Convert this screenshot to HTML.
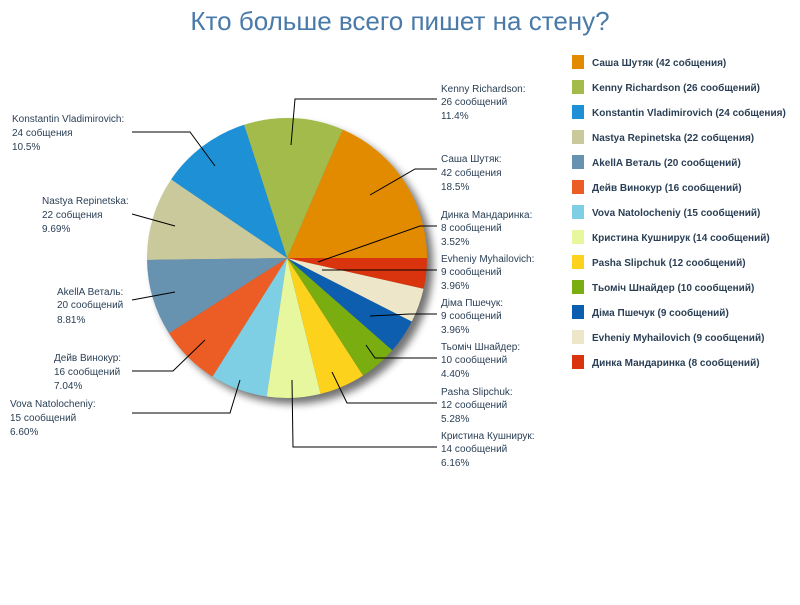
<!DOCTYPE html>
<html><head><meta charset="utf-8"><style>
body{margin:0;background:#fff;width:800px;height:600px;overflow:hidden;font-family:"Liberation Sans",sans-serif}
svg text{font-family:"Liberation Sans","DejaVu Sans",sans-serif}
</style></head><body>
<svg id="s" width="800" height="600" xmlns="http://www.w3.org/2000/svg">
<defs><filter id="sh" x="-20%" y="-20%" width="150%" height="150%"><feGaussianBlur stdDeviation="4"/></filter>
<clipPath id="lc"><rect x="560" y="40" width="230" height="350"/></clipPath></defs>
<text x="400" y="30" text-anchor="middle" font-size="26" fill="#4a7aa8">Кто больше всего пишет на стену?</text>
<circle cx="293" cy="264" r="140" fill="#000" opacity="0.55" filter="url(#sh)"/>
<g id="pie"></g>
<g id="lines" stroke="#000" stroke-width="1" fill="none">
<polyline points="437,99 295,99 291,145"/>
<polyline points="437,169 415,169 370,195"/>
<polyline points="437,226 420,226 318,262"/>
<polyline points="437,270 420,270 322,270"/>
<polyline points="437,314 410,314 370,316"/>
<polyline points="437,358 375,358 366,345"/>
<polyline points="437,403 347,403 332,372"/>
<polyline points="437,447 293,447 292,380"/>
<polyline points="132,132 190,132 215,166"/>
<polyline points="132,214 175,226"/>
<polyline points="132,300 175,292"/>
<polyline points="132,371 173,371 205,340"/>
<polyline points="132,413 230,413 240,380"/>
</g>
<g font-size="10" fill="#2a3f55">
<text x="441" y="92">Kenny Richardson:</text><text x="441" y="105">26 сообщений</text><text x="441" y="119">11.4%</text>
<text x="441" y="162">Саша Шутяк:</text><text x="441" y="176">42 собщения</text><text x="441" y="190">18.5%</text>
<text x="441" y="218">Динка Мандаринка:</text><text x="441" y="231">8 сообщений</text><text x="441" y="245">3.52%</text>
<text x="441" y="262">Evheniy Myhailovich:</text><text x="441" y="275">9 сообщений</text><text x="441" y="289">3.96%</text>
<text x="441" y="306">Діма Пшечук:</text><text x="441" y="319">9 сообщений</text><text x="441" y="333">3.96%</text>
<text x="441" y="350">Тьоміч Шнайдер:</text><text x="441" y="363">10 сообщений</text><text x="441" y="377">4.40%</text>
<text x="441" y="395">Pasha Slipchuk:</text><text x="441" y="408">12 сообщений</text><text x="441" y="422">5.28%</text>
<text x="441" y="439">Кристина Кушнирук:</text><text x="441" y="452">14 сообщений</text><text x="441" y="466">6.16%</text>
<text x="12" y="122">Konstantin Vladimirovich:</text><text x="12" y="136">24 собщения</text><text x="12" y="150">10.5%</text>
<text x="42" y="204">Nastya Repinetska:</text><text x="42" y="218">22 собщения</text><text x="42" y="232">9.69%</text>
<text x="57" y="295">AkellA Веталь:</text><text x="57" y="308">20 сообщений</text><text x="57" y="323">8.81%</text>
<text x="54" y="361">Дейв Винокур:</text><text x="54" y="375">16 сообщений</text><text x="54" y="389">7.04%</text>
<text x="10" y="407">Vova Natolocheniy:</text><text x="10" y="421">15 сообщений</text><text x="10" y="435">6.60%</text>
</g>
<g id="leg" font-size="10" font-weight="bold" fill="#2a3f55" clip-path="url(#lc)"></g>
</svg>
<script>
var d=[[42,"#e38b00","Саша Шутяк (42 собщения)"],[26,"#a3bb4a","Kenny Richardson (26 сообщений)"],[24,"#1e90d6","Konstantin Vladimirovich (24 собщения)"],[22,"#c9c99c","Nastya Repinetska (22 собщения)"],[20,"#6793b0","AkellA Веталь (20 сообщений)"],[16,"#ec5d26","Дейв Винокур (16 сообщений)"],[15,"#7ecfe3","Vova Natolocheniy (15 сообщений)"],[14,"#e6f79d","Кристина Кушнирук (14 сообщений)"],[12,"#fcd21c","Pasha Slipchuk (12 сообщений)"],[10,"#7aad0f","Тьоміч Шнайдер (10 сообщений)"],[9,"#0d5eae","Діма Пшечук (9 сообщений)"],[9,"#ede6c8","Evheniy Myhailovich (9 сообщений)"],[8,"#d9340e","Динка Мандаринка (8 сообщений)"]];
var cx=287,cy=258,r=140,t=227,a=0,h="",l="";
d.forEach(function(e,i){var b=a+e[0]/t*2*Math.PI;
var x1=cx+r*Math.cos(a),y1=cy-r*Math.sin(a),x2=cx+r*Math.cos(b),y2=cy-r*Math.sin(b);
h+='<path d="M'+cx+','+cy+'L'+x1+','+y1+'A'+r+','+r+' 0 '+(b-a>Math.PI?1:0)+' 0 '+x2+','+y2+'Z" fill="'+e[1]+'"/>';a=b;
var y=55+i*25;l+='<rect x="572" y="'+y+'" width="12" height="14" fill="'+e[1]+'"/><text x="592" y="'+(y+11)+'">'+e[2]+'</text>';});
document.getElementById("pie").innerHTML=h;document.getElementById("leg").innerHTML=l;
</script>
</body></html>
